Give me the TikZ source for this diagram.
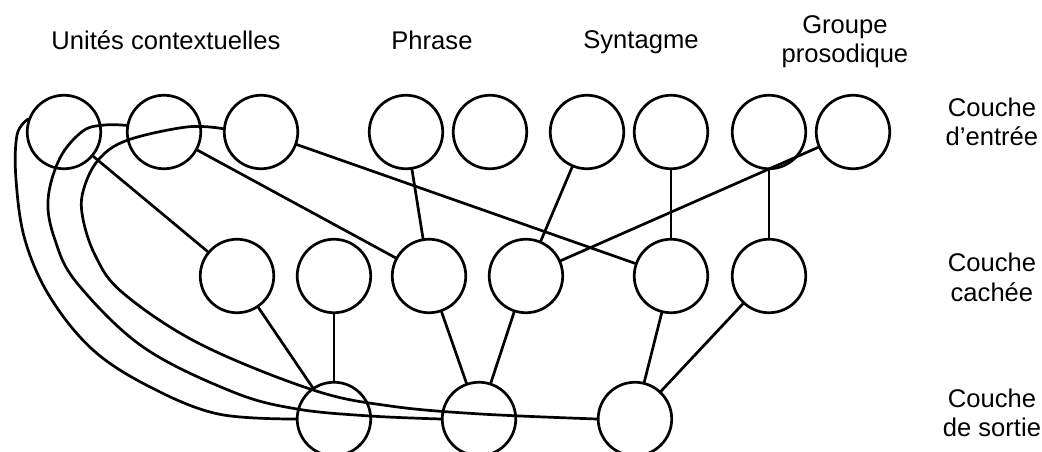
\documentclass[tikz,border=0pt]{standalone}
\usepackage{fontspec}
\setmainfont{Liberation Sans}
\usetikzlibrary{positioning}
\tikzset{
  neuron/.style={circle, draw, minimum size=1.05cm, inner sep=0pt,
                 line width=1.1pt},
  link/.style={line width=1.1pt, line cap=round, line join=round},
  loop link/.style={link, smooth, tension=0.6},
  lbl/.style={font=\fontsize{10.4}{12}\selectfont, align=center, inner sep=0pt},
  layer lbl/.style={font=\fontsize{10.4}{12}\selectfont, align=center, inner sep=0pt},
}
\begin{document}
\begin{tikzpicture}
    \useasboundingbox (0,0) rectangle (14.886,6.457);

    % input layer
    \node[neuron] (in_0) at (0.914,4.571) {};
    \node[neuron] (in_1) at (2.343,4.571) {};
    \node[neuron] (in_2) at (3.729,4.571) {};
    \node[neuron] (in_3) at (5.800,4.571) {};
    \node[neuron] (in_4) at (7.000,4.571) {};
    \node[neuron] (in_5) at (8.386,4.571) {};
    \node[neuron] (in_6) at (9.586,4.571) {};
    \node[neuron] (in_7) at (10.986,4.571) {};
    \node[neuron] (in_8) at (12.186,4.571) {};

    % hidden layer
    \node[neuron] (hid_0) at (3.386,2.514) {};
    \node[neuron] (hid_1) at (4.771,2.514) {};
    \node[neuron] (hid_2) at (6.129,2.514) {};
    \node[neuron] (hid_3) at (7.514,2.514) {};
    \node[neuron] (hid_4) at (9.586,2.514) {};
    \node[neuron] (hid_5) at (10.986,2.514) {};

    % output layer
    \node[neuron] (out_0) at (4.771,0.471) {};
    \node[neuron] (out_1) at (6.843,0.471) {};
    \node[neuron] (out_2) at (9.071,0.471) {};

    % group labels
    \node[lbl, anchor=base] (g_ctx) at (2.371,5.743) {Unités contextuelles};
    \node[lbl, anchor=base] (g_phr) at (6.171,5.743) {Phrase};
    \node[lbl, anchor=base] (g_syn) at (9.157,5.764) {Syntagme};
    \node[lbl] (g_pro) at (12.071,5.864) {Groupe\\prosodique};

    % layer labels
    \node[layer lbl] (l_in) at (14.171,4.714) {Couche\\d’entrée};
    \node[layer lbl] (l_hid) at (14.171,2.493) {Couche\\cachée};
    \node[layer lbl] (l_out) at (14.171,0.557) {Couche\\de sortie};

    \draw[link] (in_0) -- (hid_0);
    \draw[link] (in_1) -- (hid_2);
    \draw[link] (in_2) -- (hid_4);
    \draw[link] (in_3) -- (hid_2);
    \draw[link] (in_5) -- (hid_3);
    \draw[link] (in_6) -- (hid_4);
    \draw[link] (in_7) -- (hid_5);
    \draw[link] (in_8) -- (hid_3);

    \draw[link] (hid_0) -- (out_0);
    \draw[link] (hid_1) -- (out_0);
    \draw[link] (hid_2) -- (out_1);
    \draw[link] (hid_3) -- (out_1);
    \draw[link] (hid_4) -- (out_2);
    \draw[link] (hid_5) -- (out_2);

    % feedback to the context units
    \draw[loop link] plot coordinates {(out_0.west) (3.114,0.543) (2.143,0.929)
      (1.329,1.457) (0.714,2.214) (0.357,3.029) (0.229,3.886) (0.243,4.529)
      (in_0.160)};
    \draw[loop link] plot coordinates {(out_1.west) (5.286,0.514) (4.243,0.614)
      (3.329,0.857) (2.043,1.500) (1.100,2.414) (0.786,3.029) (0.686,3.600)
      (0.857,4.200) (1.186,4.586) (1.500,4.671) (in_1.170)};
    \draw[loop link] plot coordinates {(out_2.west) (6.857,0.543) (5.571,0.657)
      (4.471,0.886) (2.857,1.543) (1.757,2.271) (1.357,2.814) (1.171,3.414)
      (1.214,3.814) (1.429,4.200) (1.829,4.457) (2.671,4.643) (in_2.175)};
\end{tikzpicture}
\end{document}
